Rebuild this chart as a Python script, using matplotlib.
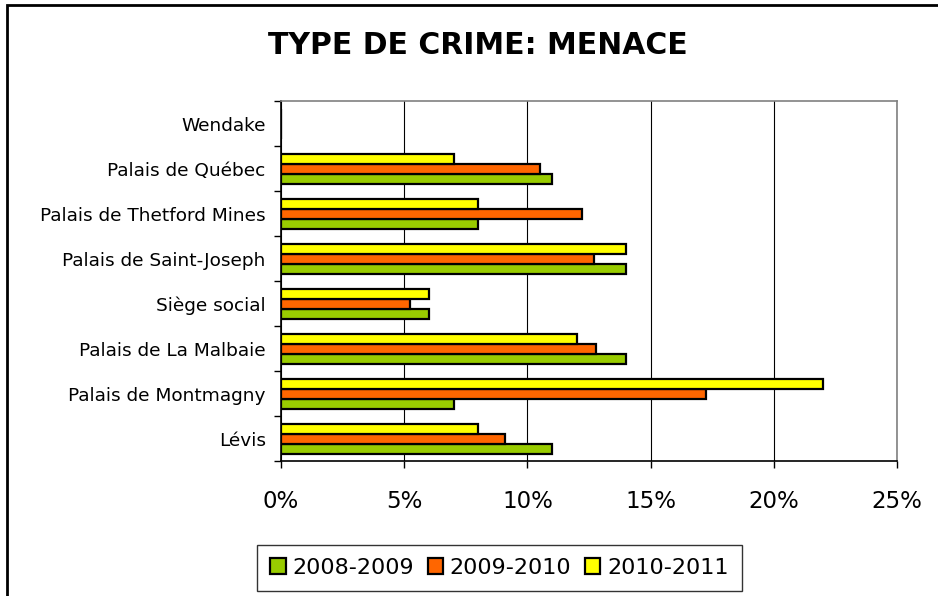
import numpy as np
import matplotlib
matplotlib.use("Agg")
import matplotlib.pyplot as plt
from matplotlib.patches import Rectangle
from matplotlib.ticker import FixedLocator, FuncFormatter

# Sites, bottom to top as drawn
sites = ["Lévis", "Palais de Montmagny", "Palais de La Malbaie", "Siège social",
         "Palais de Saint-Joseph", "Palais de Thetford Mines", "Palais de Québec",
         "Wendake"]
years = ["2008-2009", "2009-2010", "2010-2011"]
# share of threat cases (%) per site
v_0809 = [11.0, 7.0, 14.0, 6.0, 14.0, 8.0, 11.0, 0.0]
v_0910 = [9.1, 17.25, 12.8, 5.25, 12.7, 12.2, 10.5, 0.0]
v_1011 = [8.0, 22.0, 12.0, 6.0, 14.0, 8.0, 7.0, 0.0]
colors = ["#99CC00", "#FF6600", "#FFFF00"]

plt.rcParams['font.family'] = ['DejaVu Sans']

fig = plt.figure(figsize=(9.38, 5.96), dpi=100)
ax = fig.add_axes([0.2996, 0.2265, 0.9563 - 0.2996, 0.8305 - 0.2265])

y = np.arange(len(sites))
h = 1.0 / 4.5
series = [v_0809, v_0910, v_1011]
for i, (vals, c, lab) in enumerate(zip(series, colors, years)):
    ax.barh(y + (i - 1) * h, vals, height=h, color=c, edgecolor='black',
            linewidth=1.6, label=lab, zorder=3)

ax.set_xlim(0, 25)
ax.set_ylim(-0.5, len(sites) - 0.5)
ax.set_xticks([0, 5, 10, 15, 20, 25])
ax.xaxis.set_major_formatter(FuncFormatter(lambda v, p: "%d%%" % v))
ax.xaxis.grid(True, color='black', linewidth=0.8, zorder=0)
ax.tick_params(axis='x', labelsize=16.5, length=5, width=1, pad=16, direction='out')

ax.set_yticks(y)
ax.set_yticklabels(sites)
ax.yaxis.set_minor_locator(FixedLocator(np.arange(-0.5, len(sites), 1.0)))
ax.tick_params(axis='y', which='major', length=0, labelsize=13.3, pad=11)
ax.tick_params(axis='y', which='minor', length=5, width=1)

for s in ['left', 'bottom']:
    ax.spines[s].set_color('black')
    ax.spines[s].set_linewidth(1.2)
for s in ['top', 'right']:
    ax.spines[s].set_color('#808080')
    ax.spines[s].set_linewidth(1.2)

fig.text(0.5 * (270 + 685) / 938, 1 - 45 / 596, "TYPE DE CRIME: MENACE",
         ha='center', va='center', fontsize=21.5, fontweight='bold')

leg = fig.legend(loc='center', bbox_to_anchor=(499.5 / 938, 1 - 568 / 596),
                 ncol=3, fontsize=16, frameon=True, fancybox=False,
                 edgecolor='black', handlelength=0.7, handleheight=0.7,
                 handletextpad=0.3, columnspacing=0.6, borderpad=0.6,
                 borderaxespad=0)
leg.get_frame().set_linewidth(1.0)

# outer chart border (right and bottom edges fall outside the canvas)
fig.patches.append(Rectangle((7 / 938, -0.1), 1.2, 1.1 - 5 / 596,
                             transform=fig.transFigure, fill=False,
                             edgecolor='black', linewidth=2))

fig.savefig("out.png", dpi=100)
